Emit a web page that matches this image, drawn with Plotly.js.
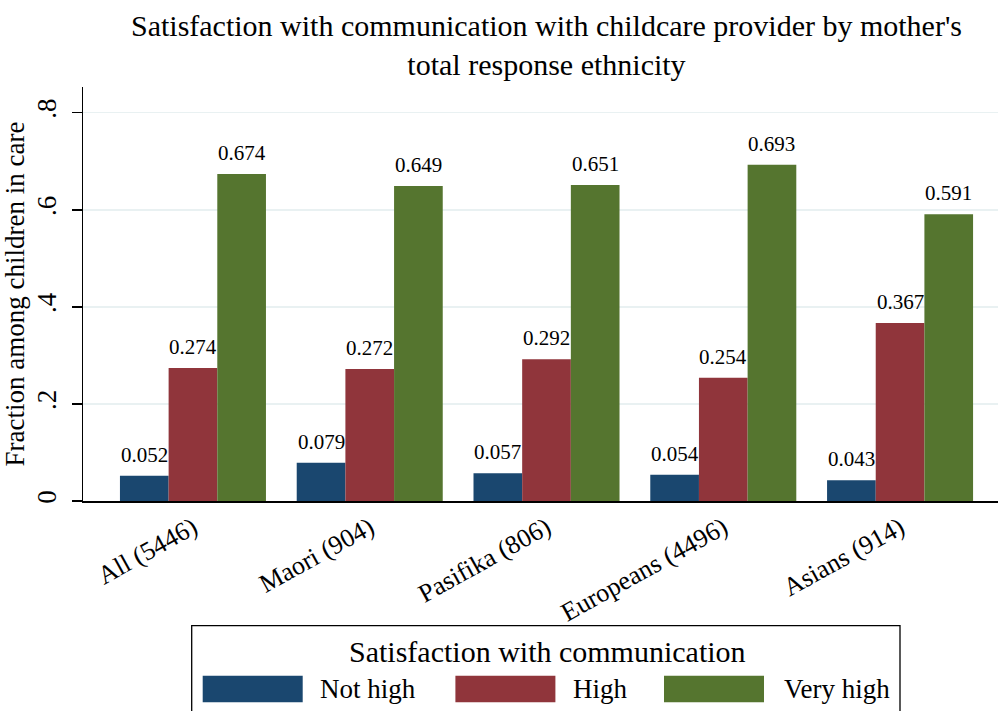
<!DOCTYPE html>
<html>
<head>
<meta charset="utf-8">
<script src="https://cdn.plot.ly/plotly-3.0.1.min.js"></script>
<style>html,body{margin:0;padding:0;background:#fff;}#chart{width:1000px;height:711px;}</style>
</head>
<body>
<div id="chart"></div>
<script>
// ---- data ----
const categories = ["All (5446)", "Maori (904)", "Pasifika (806)", "Europeans (4496)", "Asians (914)"];
const seriesNames = ["Not high", "High", "Very high"];
const notHigh = [0.052, 0.079, 0.057, 0.054, 0.043];
const high = [0.274, 0.272, 0.292, 0.254, 0.367];
const veryHigh = [0.674, 0.649, 0.651, 0.693, 0.591];
const yTickVals = [0, 0.2, 0.4, 0.6, 0.8];
const yTickText = ["0", ".2", ".4", ".6", ".8"];
const chartTitle = "Satisfaction with communication with childcare provider by mother's<br>total response ethnicity";
const yTitle = "Fraction among children in care";
const legendTitle = "Satisfaction with communication";

// ---- styles ----
const colors = ["#1a476f", "#90353b", "#55752f"];
const FONT = "Liberation Serif, Times New Roman, serif";
const W = 1000, H = 711;
const M = {l: 83, r: 2, t: 87, b: 210};
const xRange = [-0.622, 4.554];
const yRange = [0, 0.853];
const bargap = 0.174;

const plotW = W - M.l - M.r, plotH = H - M.t - M.b;
const px2x = p => (p - M.l) / plotW;
const py2y = p => (H - M.b - p) / plotH;
const pxPerUnit = plotW / (xRange[1] - xRange[0]);
const barW = pxPerUnit * (1 - bargap) / 3;

const allValues = [notHigh, high, veryHigh];
const traces = allValues.map((vals, s) => ({
  type: "bar",
  name: seriesNames[s],
  x: categories,
  y: vals,
  marker: {color: colors[s], line: {width: 0}},
  showlegend: false,
  hoverinfo: "x+y+name"
}));

const annotations = [];
allValues.forEach((vals, s) => {
  vals.forEach((v, i) => {
    annotations.push({
      x: categories[i], y: v, xref: "x", yref: "y",
      xshift: (s - 1) * barW, yshift: 7,
      yanchor: "bottom", xanchor: "center",
      text: v.toFixed(3), showarrow: false,
      font: {family: FONT, size: 21, color: "#000"}
    });
  });
});

// legend (drawn as layout shapes + annotations)
const shapes = [{
  type: "rect", xref: "paper", yref: "paper",
  x0: px2x(191.7), x1: px2x(900), y0: py2y(625.7), y1: py2y(720),
  line: {color: "#000", width: 1.3}, fillcolor: "rgba(0,0,0,0)"
}];
annotations.push({
  xref: "paper", yref: "paper", x: px2x(547.5), y: py2y(651),
  xanchor: "center", yanchor: "middle", showarrow: false,
  text: legendTitle, font: {family: FONT, size: 30, color: "#000"}
});
const swatchX = [202.7, 455.4, 664];
const labelX = [318, 571, 782];
seriesNames.forEach((n, s) => {
  shapes.push({
    type: "rect", xref: "paper", yref: "paper",
    x0: px2x(swatchX[s]), x1: px2x(swatchX[s] + 100),
    y0: py2y(675.7), y1: py2y(702.3),
    line: {width: 0}, fillcolor: colors[s]
  });
  annotations.push({
    xref: "paper", yref: "paper", x: px2x(labelX[s]), y: py2y(689),
    xanchor: "left", yanchor: "middle", showarrow: false,
    text: n, font: {family: FONT, size: 27, color: "#000"}
  });
});

const layout = {
  width: W, height: H,
  margin: {l: M.l, r: M.r, t: M.t, b: M.b, pad: 0},
  paper_bgcolor: "#fff", plot_bgcolor: "#fff",
  font: {family: FONT, color: "#000"},
  title: {
    text: chartTitle, xref: "container", yref: "container",
    x: 0.5465, xanchor: "center", y: 1 - 36 / H, yanchor: "top",
    font: {family: FONT, size: 30, color: "#000"}
  },
  barmode: "group", bargap: bargap, bargroupgap: 0,
  xaxis: {
    type: "category", range: xRange, showgrid: false, zeroline: false,
    showline: true, linecolor: "#000", linewidth: 1.5, ticks: "",
    tickangle: -29, tickfont: {family: FONT, size: 26, color: "#000"},
    fixedrange: true
  },
  yaxis: {
    range: yRange, tickvals: yTickVals, ticktext: yTickText,
    tickangle: -90, ticks: "outside", ticklen: 10, tickwidth: 1.5, tickcolor: "#000",
    tickfont: {family: FONT, size: 27, color: "#000"},
    ticklabelstandoff: 5,
    showline: true, linecolor: "#000", linewidth: 1.5,
    showgrid: true, gridcolor: "#e9f1f2", gridwidth: 1.5, zeroline: false,
    title: {text: yTitle, font: {family: FONT, size: 27, color: "#000"}, standoff: 0},
    fixedrange: true
  },
  shapes: shapes,
  annotations: annotations,
  showlegend: false
};

Plotly.newPlot("chart", traces, layout, {displayModeBar: false, staticPlot: true});
</script>
</body>
</html>
